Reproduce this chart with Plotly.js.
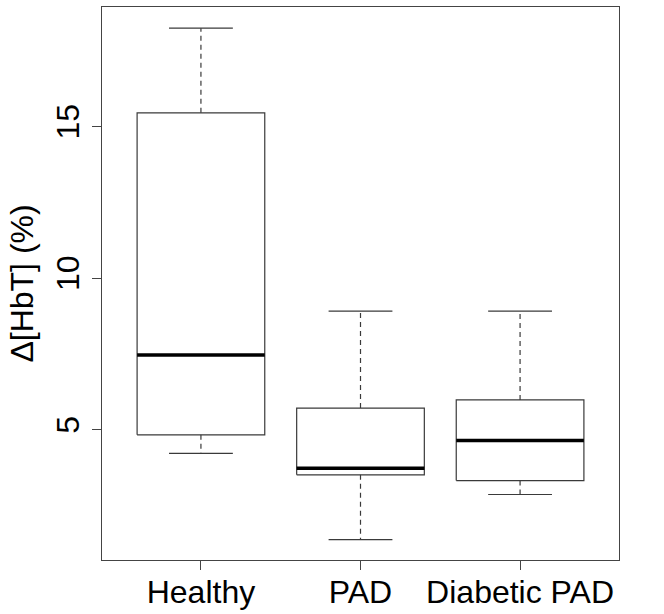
<!DOCTYPE html>
<html>
<head>
<meta charset="utf-8">
<script src="https://cdn.plot.ly/plotly-3.0.1.min.js"></script>
<style>html,body{margin:0;padding:0;background:#fff}#chart{width:664px;height:614px}</style>
</head>
<body>
<div id="chart"></div>
<script>
const categories = ["Healthy", "PAD", "Diabetic PAD"];
const lowerWhisker = [4.22, 1.37, 2.86];
const q1 = [4.83, 3.51, 3.32];
const median = [7.46, 3.73, 4.64];
const q3 = [15.45, 5.71, 5.98];
const upperWhisker = [18.24, 8.91, 8.91];
const yTicks = [5, 10, 15];

const boxHalf = 0.4, capHalf = 0.2;
const lineCol = '#3a3a3a';
const traces = [];
categories.forEach((c, i) => {
  const x = i + 1;
  traces.push({type:'scatter', mode:'lines', x:[x,x,null,x,x], y:[q3[i],upperWhisker[i],null,q1[i],lowerWhisker[i]],
    line:{color:lineCol, width:1.2, dash:'5px,4px'}, hoverinfo:'skip', showlegend:false});
  traces.push({type:'scatter', mode:'lines', x:[x-capHalf,x+capHalf,null,x-capHalf,x+capHalf],
    y:[upperWhisker[i],upperWhisker[i],null,lowerWhisker[i],lowerWhisker[i]],
    line:{color:lineCol, width:1.2}, hoverinfo:'skip', showlegend:false});
  traces.push({type:'scatter', mode:'lines', x:[x-boxHalf,x+boxHalf,x+boxHalf,x-boxHalf,x-boxHalf],
    y:[q1[i],q1[i],q3[i],q3[i],q1[i]], line:{color:lineCol, width:1.2}, hoverinfo:'skip', showlegend:false});
  traces.push({type:'scatter', mode:'lines', x:[x-boxHalf,x+boxHalf], y:[median[i],median[i]],
    line:{color:'#000', width:3.5}, hoverinfo:'skip', showlegend:false});
});

const font = {family:'Liberation Sans, Arial, sans-serif', color:'#000', size:32};
const layout = {
  width:664, height:614,
  margin:{l:102, r:45, t:7, b:54},
  paper_bgcolor:'#fff', plot_bgcolor:'#fff',
  font:font,
  showlegend:false,
  xaxis:{range:[0.38,3.62], tickvals:[1,2,3], ticktext:categories, ticks:'outside', ticklen:9,
    tickcolor:'#444', showgrid:false, zeroline:false, showline:true, mirror:true, linecolor:'#444', linewidth:1.2,
    tickfont:font, ticklabelstandoff:-6},
  yaxis:{range:[0.70,18.94], tickvals:yTicks, ticktext:yTicks.map(String), ticks:'outside', ticklen:9,
    tickcolor:'#444', tickangle:-90, showgrid:false, zeroline:false, showline:true, mirror:true, linecolor:'#444', linewidth:1.2,
    tickfont:font, title:{text:'Δ[HbT] (%)', font:{family:font.family, size:32, color:'#000'}, standoff:6}}
};
Plotly.newPlot('chart', traces, layout, {staticPlot:true, displayModeBar:false});
</script>
</body>
</html>
